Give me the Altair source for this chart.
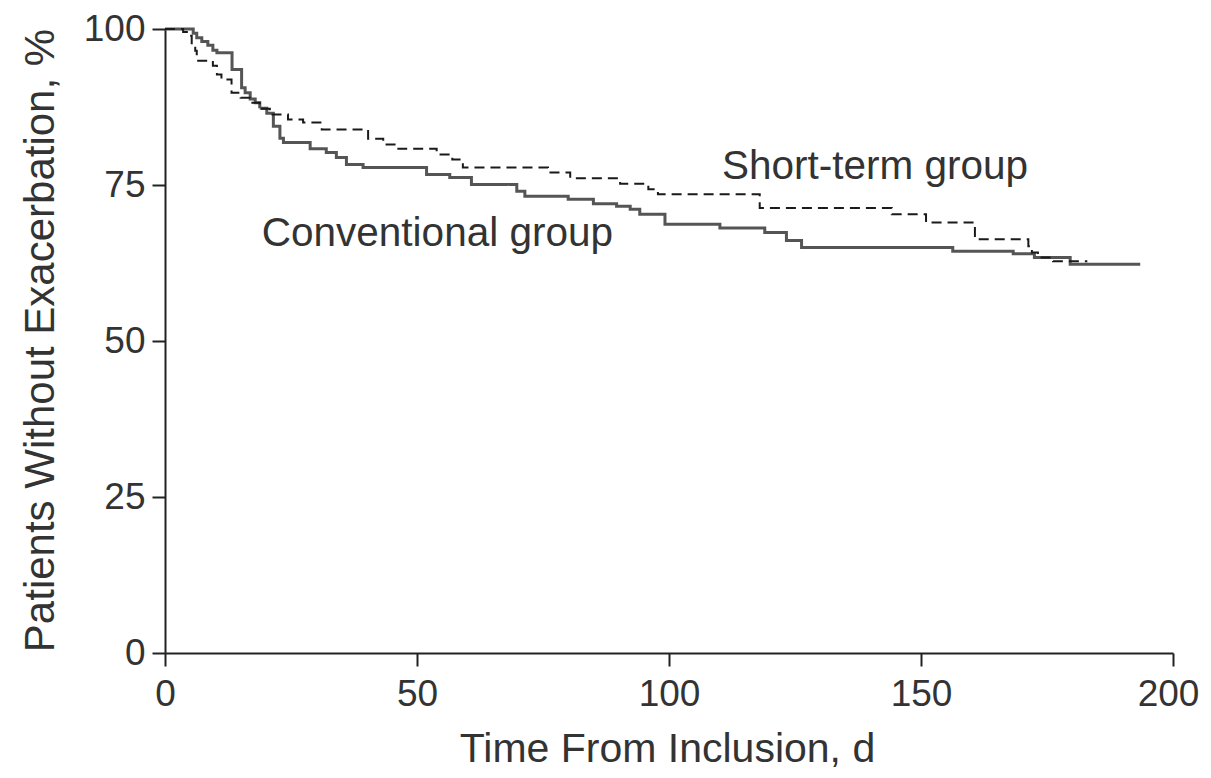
import altair as alt
import pandas as pd

# Conventional group (solid) – step-after change points
conv_days = [0, 5.6, 6.3, 7.3, 8.5, 9.5, 10.3, 13.3, 15.2, 15.9, 16.9, 17.9, 18.8, 20.2, 21.5, 22.8, 23.5,
             28.8, 32.0, 34.0, 36.0, 39.3, 51.9, 56.5, 60.8, 69.8, 71.4, 80.0, 85.0, 89.6, 92.3, 94.2,
             99.2, 110.1, 119.0, 123.3, 126.3, 156.3, 168.3, 172.5, 179.6, 193.5]
conv_pct = [100, 99.3, 98.6, 98.0, 97.4, 96.6, 96.2, 93.5, 90.6, 89.8, 88.8, 88.2, 87.3, 86.5, 84.4, 82.5, 81.8,
            80.8, 80.2, 79.4, 78.3, 77.8, 76.7, 76.2, 75.1, 74.0, 73.2, 72.7, 72.0, 71.6, 71.1, 70.3,
            68.7, 68.1, 67.4, 66.1, 65.0, 64.4, 64.0, 63.4, 62.3, 62.3]

# Short-term group (dashed)
short_days = [0, 3.6, 4.6, 5.3, 6.0, 6.3, 9.5, 10.3, 11.2, 13.2, 15.0, 16.9, 18.8, 20.8, 24.4, 27.4,
              31.1, 40.3, 43.3, 46.3, 53.9, 57.0, 59.1, 76.0, 80.4, 90.3, 95.9, 97.8, 118.0, 144.2,
              151.0, 160.7, 171.3, 172.0, 173.2, 176.2, 183.0]
short_pct = [100, 99.5, 98.9, 97.5, 96.5, 94.9, 94.1, 92.7, 91.9, 89.8, 89.0, 88.2, 87.2, 86.3, 85.5, 85.0,
             83.9, 82.4, 81.5, 80.8, 79.9, 79.1, 77.8, 77.0, 76.1, 75.2, 74.3, 73.5, 71.3, 70.3,
             69.0, 66.3, 65.2, 64.2, 63.4, 62.8, 62.8]

groups = ["Conventional group", "Short-term group"]

# Annotation labels
ann_labels = ["Short-term group", "Conventional group"]
ann_days = [110.5, 19.2]
ann_pct = [77.9, 67.1]

x_ticks = [0, 50, 100, 150, 200]
y_ticks = [0, 25, 50, 75, 100]

df = pd.concat([
    pd.DataFrame({"day": conv_days, "pct": conv_pct, "group": groups[0]}),
    pd.DataFrame({"day": short_days, "pct": short_pct, "group": groups[1]}),
])
ann = pd.DataFrame({"day": ann_days, "pct": ann_pct, "label": ann_labels})

FONT = "Liberation Sans"
TXT = "#333333"
AX = "#222222"

x = alt.X("day:Q",
          scale=alt.Scale(domain=[0, 200], nice=False),
          axis=alt.Axis(title="Time From Inclusion, d", values=x_ticks, grid=False, labelFlush=False,
                        labelOffset={"expr": "datum.value == 200 ? -5 : 0"},
                        domainColor=AX, domainWidth=2, tickColor=AX, tickWidth=2,
                        tickSize=13, labelPadding=10, labelFontSize=37, titleFontSize=41,
                        labelColor=TXT, titleColor=TXT, labelFont=FONT, titleFont=FONT,
                        titleFontWeight="normal", titleX=502, titleY=108,
                        titleBaseline="alphabetic"))
y = alt.Y("pct:Q",
          scale=alt.Scale(domain=[0, 100], nice=False),
          axis=alt.Axis(title="Patients Without Exacerbation, %", values=y_ticks, grid=False, labelFlush=False,
                        domainColor=AX, domainWidth=2, tickColor=AX, tickWidth=2,
                        tickSize=13, labelPadding=7, labelFontSize=37, titleFontSize=42,
                        labelColor=TXT, titleColor=TXT, labelFont=FONT, titleFont=FONT,
                        titleFontWeight="normal", titleX=-112, titleY=311,
                        titleBaseline="alphabetic", titleAngle=270))

lines = alt.Chart(df).mark_line(interpolate="step-after").encode(
    x=x, y=y,
    color=alt.Color("group:N", scale=alt.Scale(domain=groups, range=["#555555", "#1a1a1a"]), legend=None),
    strokeDash=alt.StrokeDash("group:N", scale=alt.Scale(domain=groups, range=[[1, 0], [10, 6]]), legend=None),
    strokeWidth=alt.StrokeWidth("group:N", scale=alt.Scale(domain=groups, range=[3, 2]), legend=None),
)

texts = alt.Chart(ann).mark_text(align="left", baseline="middle", fontSize=40.5, font=FONT, color=TXT).encode(
    x="day:Q", y="pct:Q", text="label:N")

chart = alt.layer(lines, texts).properties(
    width=1008, height=624,
    background="white",
    autosize=alt.AutoSizeParams(type="none"),
    padding={"left": 157, "top": 21, "right": 30, "bottom": 117},
).configure_view(strokeWidth=0)

chart.save("out.html", embed_options={"renderer": "svg", "actions": False})
